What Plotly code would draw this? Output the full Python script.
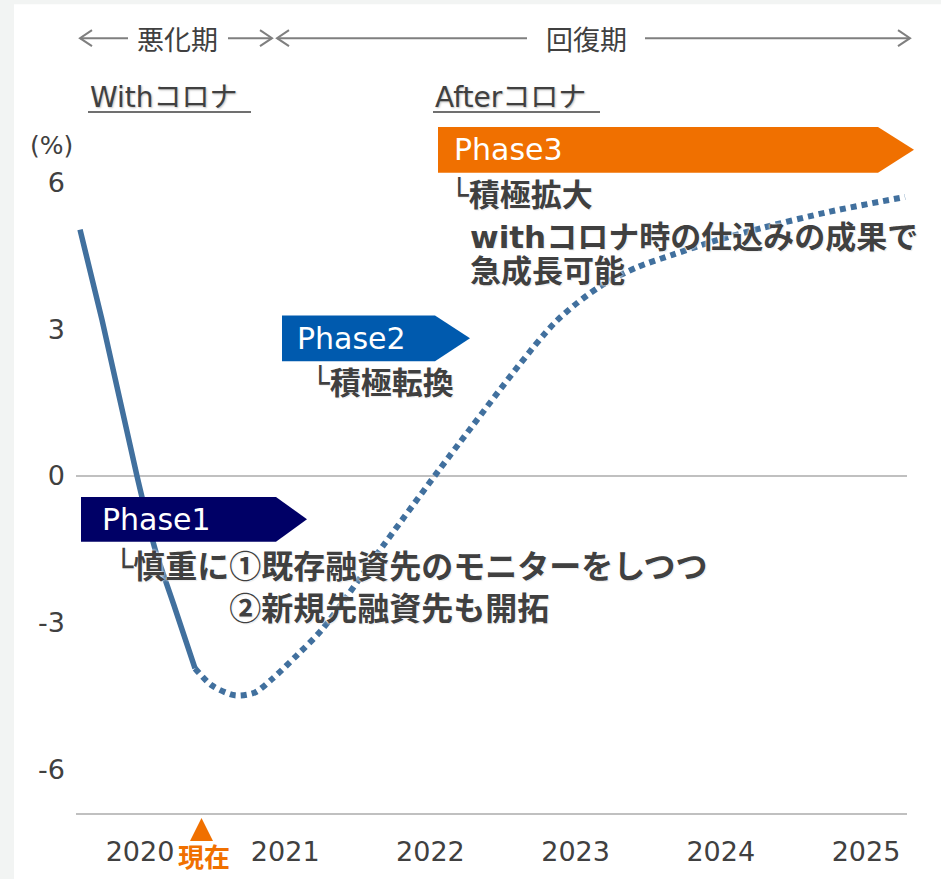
import plotly.graph_objects as go

# ---- data ----
actual_x = [2019.587, 2019.738, 2019.979, 2020.103, 2020.241, 2020.379]
actual_y = [5.04, 3.20, 0.00, -1.49, -2.71, -3.94]
forecast_x = [2020.379, 2020.496, 2020.654, 2020.792, 2020.916, 2021.081, 2021.260,
              2021.674, 2022.204, 2022.858, 2023.168, 2023.423, 2023.671, 2023.946,
              2024.291, 2024.752, 2025.269]
forecast_y = [-3.94, -4.29, -4.49, -4.43, -4.14, -3.67, -3.12,
              -1.43, 0.69, 3.14, 3.88, 4.27, 4.53, 4.80,
              5.08, 5.41, 5.71]
year_ticks = [2020, 2021, 2022, 2023, 2024, 2025]
y_ticks = [6, 3, 0, -3, -6]

W, H = 941, 879
L, R, T, B = 76, 907, 100, 815

def fx(p):
    return (p - L) / (R - L)

def fy(p):
    return (B - p) / (B - T)

LINE_COLOR = "#41709e"
TEXT = "#404040"
LAT = "DejaVu Sans, Noto Sans CJK JP, sans-serif"
CJK = "Noto Sans CJK JP, sans-serif"

fig = go.Figure()
fig.add_trace(go.Scatter(x=actual_x, y=actual_y, mode="lines",
                         line=dict(color=LINE_COLOR, width=5.5, shape="spline", smoothing=0.6),
                         hoverinfo="skip", showlegend=False))
fig.add_trace(go.Scatter(x=forecast_x, y=forecast_y, mode="lines",
                         line=dict(color=LINE_COLOR, width=6, dash="6px,5px",
                                   shape="spline", smoothing=0.8),
                         hoverinfo="skip", showlegend=False))

shapes = []
# white panel
shapes.append(dict(type="rect", xref="paper", yref="paper", layer="below",
                   x0=fx(14), x1=fx(W + 5), y0=fy(H + 5), y1=fy(4),
                   fillcolor="white", line=dict(width=0)))

def path(points, close=False):
    s = "M " + " L ".join(f"{fx(x):.5f},{fy(y):.5f}" for x, y in points)
    if close:
        s += " Z"
    return s

GRAY = "#7f7f7f"
def hline(x0, x1, y, color=GRAY, w=2):
    shapes.append(dict(type="line", xref="paper", yref="paper",
                       x0=fx(x0), x1=fx(x1), y0=fy(y), y1=fy(y),
                       line=dict(color=color, width=w)))

def chevron(x, y, d):
    shapes.append(dict(type="path", xref="paper", yref="paper",
                       path=path([(x - d * 12, y - 8), (x, y), (x - d * 12, y + 8)]),
                       line=dict(color=GRAY, width=2)))

# header arrows
hline(80, 128, 38); chevron(80, 38, -1)
hline(228, 272, 38); chevron(272, 38, 1)
hline(277, 527, 38); chevron(277, 38, -1)
hline(645, 910, 38); chevron(910, 38, 1)
# underlines
hline(88, 251, 112, color=TEXT, w=1.5)
hline(433, 600, 112, color=TEXT, w=1.5)

# phase arrows
def phase(x0, x1, xt, y0, y1, color):
    ym = (y0 + y1) / 2
    shapes.append(dict(type="path", xref="paper", yref="paper",
                       path=path([(x0, y0), (x1, y0), (xt, ym), (x1, y1), (x0, y1)], True),
                       fillcolor=color, line=dict(width=0)))

phase(81, 276, 307, 498, 543, "#000066")
phase(282, 435, 470, 316, 362, "#005aae")
phase(438, 878, 914, 127, 173, "#f07000")

# 現在 marker
shapes.append(dict(type="path", xref="paper", yref="paper",
                   path=path([(190, 843), (201.5, 820), (213, 843)], True),
                   fillcolor="#f07000", line=dict(width=0)))

ann = []
def text(t, x, y, size, color=TEXT, bold=False, anchor="left", family=LAT, shadow="none"):
    ann.append(dict(text=t, x=fx(x), y=fy(y), xref="paper", yref="paper",
                    xanchor=anchor, yanchor="middle", showarrow=False, align="left",
                    font=dict(size=size, color=color, family=family,
                              weight=700 if bold else 400, shadow=shadow)))

SH = "0 0 2px white, 0 0 3px white, 1px 1px 1px rgba(0,0,0,0.12)"
SH2 = "1px 1px 2px rgba(0,0,0,0.25)"
text("悪化期", 177, 38, 27, anchor="center", family=CJK)
text("回復期", 586, 38, 27, anchor="center", family=CJK)
text("Withコロナ", 88, 97, 28, shadow=SH2)
text("Afterコロナ", 433, 97, 28, shadow=SH2)
text("(%)", 51, 146, 25, anchor="center")
text("Phase1", 100, 521, 30, color="white")
text("Phase2", 295, 339, 30, color="white")
text("Phase3", 452, 150, 30, color="white")

CIRC = '<span style="font-family:Noto Sans CJK JP">{}</span>'
SPACER = '<span style="color:rgba(0,0,0,0);text-shadow:none">└慎重に</span>'
text("└慎重に" + CIRC.format("①") + "既存融資先のモニターをしつつ<br>"
     + SPACER + CIRC.format("②") + "新規先融資先も開拓",
     112, 586, 32, bold=True, shadow=SH)
text("└積極転換", 309, 383, 31, bold=True, shadow=SH)
text("└積極拡大", 448, 195, 31, bold=True, shadow=SH)
text("withコロナ時の仕込みの成果で", 468, 237, 31, bold=True, shadow=SH)
text("急成長可能", 468, 271, 31, bold=True, shadow=SH)
text("現在", 204, 858, 26, color="#f07000", bold=True, anchor="center", family=CJK)

fig.update_layout(
    width=W, height=H, autosize=False,
    margin=dict(l=L, r=W - R, t=T, b=H - B, pad=0),
    paper_bgcolor="#f2f4f3", plot_bgcolor="white",
    shapes=shapes, annotations=ann,
    font=dict(family=LAT, color=TEXT),
    xaxis=dict(range=[2020 + (L - 140) / 145.2, 2020 + (R - 140) / 145.2],
               tickvals=year_ticks, ticktext=[str(v) for v in year_ticks],
               showgrid=False, zeroline=False, showline=True, linecolor="#c0c0c0",
               linewidth=1.5, ticks="", tickfont=dict(size=27, color=TEXT),
               ticklabelstandoff=14, fixedrange=True),
    yaxis=dict(range=[(477 - B) / 49, (477 - T) / 49],
               tickvals=y_ticks, ticktext=[str(v) for v in y_ticks],
               showgrid=False, zeroline=True, zerolinecolor="#c0c0c0", zerolinewidth=1.5,
               showline=False, ticks="", tickfont=dict(size=27, color=TEXT),
               ticklabelstandoff=10, fixedrange=True),
)

fig.write_html("out.html", config={"displayModeBar": False})
